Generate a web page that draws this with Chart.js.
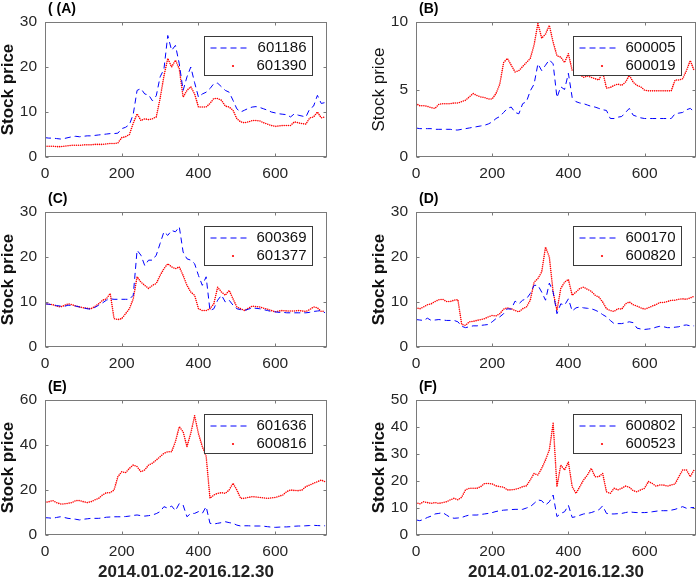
<!DOCTYPE html>
<html>
<head>
<meta charset="utf-8">
<script src="https://cdn.jsdelivr.net/npm/chart.js@4.4.1/dist/chart.umd.min.js"></script>
<style>
  body { margin: 0; background: #fff; }
  #wrap { position: relative; width: 700px; height: 579px; }
  #wrap canvas { position: absolute; left: 0; top: 0; }
</style>
</head>
<body>
<div id="wrap"></div>
<script>
const days = [0,10,20,30,40,50,60,70,80,90,100,110,120,130,140,150,160,170,180,190,
  200,210,220,230,240,250,260,270,280,290,300,310,320,330,340,350,360,370,380,390,
  400,410,420,430,440,450,460,470,480,490,500,510,520,530,540,550,560,570,580,590,
  600,610,620,630,640,650,660,670,680,690,700,710,720,730];

const xTicks = [0, 200, 400, 600];

// (A)
const s601186 = [4.3,4.2,4.2,4.1,4.0,4.1,4.3,4.5,4.6,4.5,
  4.6,4.7,4.7,4.8,4.9,5.0,5.1,5.2,5.2,5.3,
  6.3,6.6,7.2,9.5,14.8,15.2,14.0,13.8,12.5,13.6,
  17.8,19.5,27.0,23.7,24.8,20.7,14.8,17.8,20.0,16.5,
  13.3,14.0,14.4,15.2,16.3,16.4,15.6,14.8,14.4,12.6,
  10.7,10.0,10.4,10.8,11.1,11.2,11.0,10.7,10.4,10.0,
  9.8,9.6,9.5,9.4,8.9,9.6,9.3,9.1,8.9,10.7,
  11.3,13.7,11.9,12.1];
const s601390 = [2.4,2.4,2.4,2.3,2.3,2.4,2.5,2.6,2.6,2.6,
  2.7,2.7,2.7,2.8,2.8,2.8,2.9,3.0,3.0,3.1,
  4.3,4.5,5.0,7.5,9.6,8.1,8.5,8.3,8.5,8.9,
  13.0,18.0,21.9,20.0,21.5,19.6,13.3,14.8,15.6,14.0,
  11.1,11.1,11.1,11.9,13.0,13.0,12.6,11.3,11.1,10.4,
  8.5,7.8,7.6,7.8,8.1,8.1,8.0,7.6,7.3,7.0,
  6.8,6.9,7.0,7.0,7.0,7.8,7.6,7.4,7.3,8.7,
  8.9,10.0,8.7,8.9];

// (B)
const s600005 = [2.15,2.1,2.1,2.1,2.1,2.05,2.05,2.05,2.05,2.05,
  2.0,2.0,2.05,2.1,2.15,2.2,2.25,2.3,2.35,2.45,
  2.6,2.85,3.0,3.3,3.6,3.7,3.3,3.2,3.95,4.1,
  4.9,5.4,6.9,6.4,6.8,7.2,6.9,4.4,5.2,5.0,
  6.2,4.4,4.1,4.0,3.95,3.85,3.75,3.7,3.6,3.5,
  3.45,2.85,2.85,2.95,3.0,3.3,3.6,3.1,3.0,2.9,
  2.85,2.85,2.85,2.85,2.85,2.85,2.85,2.85,3.2,3.25,
  3.3,3.5,3.6,3.35];
const s600019 = [3.95,3.8,3.8,3.75,3.65,3.6,3.9,3.95,3.95,3.95,
  4.0,4.0,4.1,4.2,4.45,4.7,4.55,4.45,4.4,4.3,
  4.3,4.7,5.4,7.0,7.3,6.8,6.3,6.4,6.7,7.0,
  7.3,8.3,9.9,8.8,9.1,9.75,8.5,7.5,7.4,7.0,
  7.65,6.4,6.4,6.1,5.9,6.0,5.9,5.8,5.7,6.3,
  5.1,5.15,5.3,5.4,5.3,5.55,6.05,5.55,5.3,5.2,
  4.95,4.9,4.9,4.9,4.9,4.9,4.9,4.9,5.7,5.7,
  5.8,6.4,7.15,6.4];

// (C)
const s600369 = [9.6,9.5,9.4,9.2,9.1,9.0,9.3,9.2,9.1,8.9,
  8.7,8.5,8.4,8.8,9.3,9.8,10.4,10.7,10.6,10.6,
  10.6,10.6,10.6,11.5,21.5,20.4,18.1,19.3,19.3,20.4,
  23.0,25.6,24.8,25.9,25.6,26.7,21.1,19.6,19.3,18.5,
  15.9,13.7,15.6,8.1,8.5,10.4,11.5,10.0,10.4,9.3,
  8.5,8.3,8.1,8.4,8.7,8.6,8.5,8.3,8.1,7.9,
  7.8,7.7,7.7,7.6,7.6,7.6,7.6,7.6,7.6,7.7,
  7.9,8.0,8.1,7.6];
const s601377 = [9.6,9.5,9.4,9.1,8.9,9.2,9.6,9.4,9.1,8.9,
  8.7,8.6,8.5,9.0,9.6,10.4,10.7,11.9,6.3,6.1,
  6.3,7.4,8.5,10.7,15.6,14.4,13.7,13.0,13.7,14.1,
  15.9,17.4,18.5,17.8,17.4,17.8,15.9,13.7,12.2,11.5,
  8.5,8.1,8.1,8.5,9.6,13.3,12.2,11.5,12.6,10.7,
  8.9,8.5,8.1,8.6,9.1,9.0,8.9,8.6,8.4,8.1,
  7.8,8.0,8.1,8.0,8.0,8.0,8.1,8.0,7.9,8.3,
  8.9,8.7,7.9,8.0];

// (D)
const s600170 = [6.1,6.0,5.9,6.4,5.9,6.0,6.1,6.0,5.9,5.9,
  5.9,5.6,4.6,4.3,4.5,4.7,4.7,4.8,4.9,5.0,
  5.6,6.3,6.7,7.4,8.5,8.4,10.2,9.6,10.4,10.7,
  11.9,13.7,13.7,12.2,10.4,14.2,12.2,7.4,9.6,9.3,
  10.7,8.0,8.7,8.9,8.7,8.6,8.5,8.2,7.8,7.2,
  6.7,5.9,5.2,5.2,5.2,5.4,5.6,5.4,4.2,4.0,
  3.9,4.0,4.1,4.4,4.6,4.5,4.3,4.3,4.4,4.5,
  4.8,4.9,4.7,4.7];
const s600820 = [8.7,8.5,8.9,9.4,9.6,10.1,10.5,10.6,10.1,10.1,
  10.4,10.5,5.0,4.8,5.6,5.7,5.9,6.1,6.3,6.7,
  7.0,6.9,7.4,8.4,8.7,8.5,8.1,7.8,8.5,8.9,
  10.4,14.4,15.2,16.7,22.2,20.0,12.2,8.1,13.0,14.4,
  15.0,11.5,12.2,13.0,13.3,12.8,12.4,11.5,11.1,10.0,
  8.5,8.1,7.9,8.5,8.4,9.6,10.0,9.4,9.1,8.7,
  8.4,8.7,9.1,9.4,9.9,9.9,10.1,10.4,10.4,10.6,
  10.7,10.6,10.9,11.3];

// (E)
const s601636 = [7.7,7.6,7.4,7.8,8.1,7.8,7.4,7.2,7.0,6.7,
  7.0,7.2,7.4,7.4,7.4,7.6,7.9,8.0,8.1,8.1,
  8.1,8.2,8.4,8.7,8.9,8.6,8.4,8.6,8.9,9.5,
  10.4,12.6,11.9,12.9,10.8,14.0,13.3,8.1,9.6,9.6,
  10.4,9.6,12.6,5.2,4.9,5.2,5.5,5.9,5.5,5.2,
  4.4,4.0,4.1,4.1,4.0,4.0,4.0,3.9,3.7,3.5,
  3.4,3.5,3.6,3.6,3.7,3.9,4.0,4.0,4.1,4.2,
  4.3,4.2,4.1,4.1];
const s600816 = [14.4,14.8,15.3,14.4,13.8,13.8,14.1,14.4,15.3,15.3,
  14.8,14.4,14.8,15.6,16.3,17.8,18.8,18.8,20.0,25.9,
  28.1,27.7,29.6,31.1,30.4,28.1,28.9,31.1,31.9,33.3,
  34.8,36.3,37.0,37.0,41.5,48.1,45.9,39.3,45.2,53.0,
  45.0,39.3,35.0,16.3,17.8,18.5,18.8,18.5,20.0,23.0,
  20.0,16.3,16.3,16.7,17.0,16.9,16.7,16.5,16.3,16.5,
  16.7,17.2,17.8,19.3,20.0,19.8,19.7,20.0,21.5,22.2,
  23.0,23.7,24.4,23.7];

// (F)
const s600802 = [5.6,5.3,5.8,6.5,7.0,7.8,8.0,8.3,7.4,6.5,
  6.2,6.3,6.5,7.0,7.4,7.4,7.4,7.6,7.8,8.0,
  8.3,8.7,9.0,9.2,9.3,9.4,9.5,9.5,9.5,10.0,
  10.5,11.7,13.0,12.7,11.1,12.3,14.8,6.8,8.0,8.6,
  11.0,6.5,6.8,7.3,7.8,8.0,8.3,8.8,9.3,10.8,
  8.0,7.8,7.8,7.9,8.0,8.3,8.6,8.4,8.3,8.3,
  8.3,8.4,8.6,8.8,9.0,9.0,9.0,9.2,9.5,10.0,
  10.5,9.9,10.1,10.2];
const s600523 = [12.0,11.5,12.3,12.0,11.7,12.0,11.7,12.0,12.3,13.0,
  13.6,13.0,14.0,16.7,17.3,17.3,17.3,17.9,19.1,19.1,
  18.9,18.2,17.9,17.7,16.7,16.7,16.9,17.3,17.9,18.2,
  20.4,22.8,22.2,24.7,27.8,31.5,41.4,17.9,25.9,24.1,
  27.0,17.9,15.4,17.9,20.4,22.2,24.7,21.6,21.6,22.8,
  16.0,15.4,17.3,16.7,17.3,18.1,17.7,16.4,16.0,16.7,
  17.3,19.8,19.1,18.1,18.5,18.5,18.1,18.5,18.9,21.6,
  24.1,24.1,21.6,24.1];

const panels = [
  { tag: '( (A)', codes: ['601186', '601390'], blue: s601186, red: s601390, yMax: 30, yStep: 10, boldY: true,  xTitle: false, area: [45, 22, 327, 157] },
  { tag: '(B)',   codes: ['600005', '600019'], blue: s600005, red: s600019, yMax: 10, yStep: 5,  boldY: false, xTitle: false, area: [416, 22, 696, 157] },
  { tag: '(C)',   codes: ['600369', '601377'], blue: s600369, red: s601377, yMax: 30, yStep: 10, boldY: true,  xTitle: false, area: [45, 212, 327, 347] },
  { tag: '(D)',   codes: ['600170', '600820'], blue: s600170, red: s600820, yMax: 30, yStep: 10, boldY: true,  xTitle: false, area: [416, 212, 696, 347] },
  { tag: '(E)',   codes: ['601636', '600816'], blue: s601636, red: s600816, yMax: 60, yStep: 20, boldY: true,  xTitle: true,  area: [45, 400, 327, 535] },
  { tag: '(F)',   codes: ['600802', '600523'], blue: s600802, red: s600523, yMax: 50, yStep: 10, boldY: true,  xTitle: true,  area: [416, 400, 696, 535] }
];

const FONT = "'Liberation Sans', Arial, Helvetica, sans-serif";
const Y_W = 45;   // width of the y axis box
const X_H = 46;   // height of the x axis box
const W = 700, H = 579;

// box, inward ticks, panel tag and legend, drawn like the matlab figure
const matlabLook = {
  id: 'matlabLook',
  afterDraw(chart, args, opts) {
    const { ctx, chartArea: a, scales } = chart;
    const p = opts.panel;
    const l = Math.round(a.left) + 0.5, r = Math.round(a.right) - 0.5;
    const t = Math.round(a.top) + 0.5, b = Math.round(a.bottom) - 0.5;
    ctx.save();
    ctx.strokeStyle = '#7a7a7a';
    ctx.lineWidth = 1;
    ctx.setLineDash([]);
    ctx.strokeRect(l, t, r - l, b - t);
    ctx.beginPath();
    scales.x.ticks.forEach(tk => {
      const x = Math.round(scales.x.getPixelForValue(tk.value)) + 0.5;
      ctx.moveTo(x, b); ctx.lineTo(x, b - 3);
      ctx.moveTo(x, t); ctx.lineTo(x, t + 3);
    });
    scales.y.ticks.forEach(tk => {
      const y = Math.round(scales.y.getPixelForValue(tk.value)) + 0.5;
      ctx.moveTo(l, y); ctx.lineTo(l + 3, y);
      ctx.moveTo(r, y); ctx.lineTo(r - 3, y);
    });
    ctx.stroke();

    // panel tag
    ctx.fillStyle = '#000';
    ctx.font = 'bold 14px ' + FONT;
    ctx.textBaseline = 'middle';
    ctx.textAlign = 'left';
    ctx.fillText(p.tag, a.left + 3, a.top - 13);

    // legend box
    const bw = 108, bh = 39;
    const bx = Math.round(a.right - 15 - bw) + 0.5;
    const by = Math.round(a.top + 14) + 0.5;
    ctx.fillStyle = '#fff';
    ctx.fillRect(bx, by, bw, bh);
    ctx.strokeStyle = '#3a3a3a';
    ctx.strokeRect(bx, by, bw, bh);
    const y1 = by + 11.5, y2 = by + 29.5;
    ctx.strokeStyle = '#0000ff';
    ctx.setLineDash([6, 4]);
    ctx.beginPath();
    ctx.moveTo(bx + 6, y1); ctx.lineTo(bx + 46, y1);
    ctx.stroke();
    ctx.setLineDash([]);
    ctx.fillStyle = '#ff0000';
    ctx.beginPath();
    ctx.arc(bx + 28.5, y2, 1.1, 0, Math.PI * 2);
    ctx.fill();
    ctx.fillStyle = '#111';
    ctx.font = '15px ' + FONT;
    ctx.textAlign = 'right';
    ctx.fillText(p.codes[0], bx + bw - 6, y1);
    ctx.fillText(p.codes[1], bx + bw - 6, y2);
    ctx.restore();
  }
};

const wrap = document.getElementById('wrap');

panels.forEach(p => {
  const cv = document.createElement('canvas');
  cv.width = W; cv.height = H;
  wrap.appendChild(cv);
  const [left, top, right, bottom] = p.area;

  new Chart(cv, {
    type: 'line',
    data: {
      datasets: [
        {
          label: p.codes[0],
          data: days.map((d, i) => ({ x: d, y: p.blue[i] })),
          borderColor: '#0000ff',
          borderWidth: 1,
          borderDash: [6, 4],
          pointRadius: 0,
          tension: 0
        },
        {
          label: p.codes[1],
          data: days.map((d, i) => ({ x: d, y: p.red[i] })),
          borderColor: '#ff0000',
          borderWidth: 1.6,
          borderDash: [0, 2.1],
          borderCapStyle: 'round',
          pointRadius: 0,
          tension: 0
        }
      ]
    },
    options: {
      responsive: false,
      animation: false,
      events: [],
      layout: {
        padding: { left: left - Y_W, top: top, right: W - right, bottom: H - bottom - X_H }
      },
      plugins: {
        legend: { display: false },
        tooltip: { enabled: false },
        matlabLook: { panel: p }
      },
      scales: {
        x: {
          type: 'linear',
          min: 0,
          max: 735,
          afterFit: s => { s.height = X_H; },
          afterBuildTicks: s => { s.ticks = xTicks.map(v => ({ value: v })); },
          ticks: { padding: 7, maxRotation: 0, color: '#262626', font: { family: FONT, size: 15.5 } },
          grid: { display: false, drawTicks: false },
          border: { display: false },
          title: {
            display: p.xTitle,
            text: '2014.01.02-2016.12.30',
            color: '#222',
            padding: 0,
            font: { family: FONT, size: 17, weight: 'bold', lineHeight: 1 }
          }
        },
        y: {
          min: 0,
          max: p.yMax,
          afterFit: s => { s.width = Y_W; },
          ticks: { stepSize: p.yStep, padding: 8, color: '#262626', font: { family: FONT, size: 15.5 } },
          grid: { display: false, drawTicks: false },
          border: { display: false },
          title: {
            display: true,
            text: 'Stock price',
            color: '#111',
            padding: 0,
            font: { family: FONT, size: 17, weight: p.boldY ? 'bold' : 'normal', lineHeight: 1 }
          }
        }
      }
    },
    plugins: [matlabLook]
  });
});
</script>
</body>
</html>
